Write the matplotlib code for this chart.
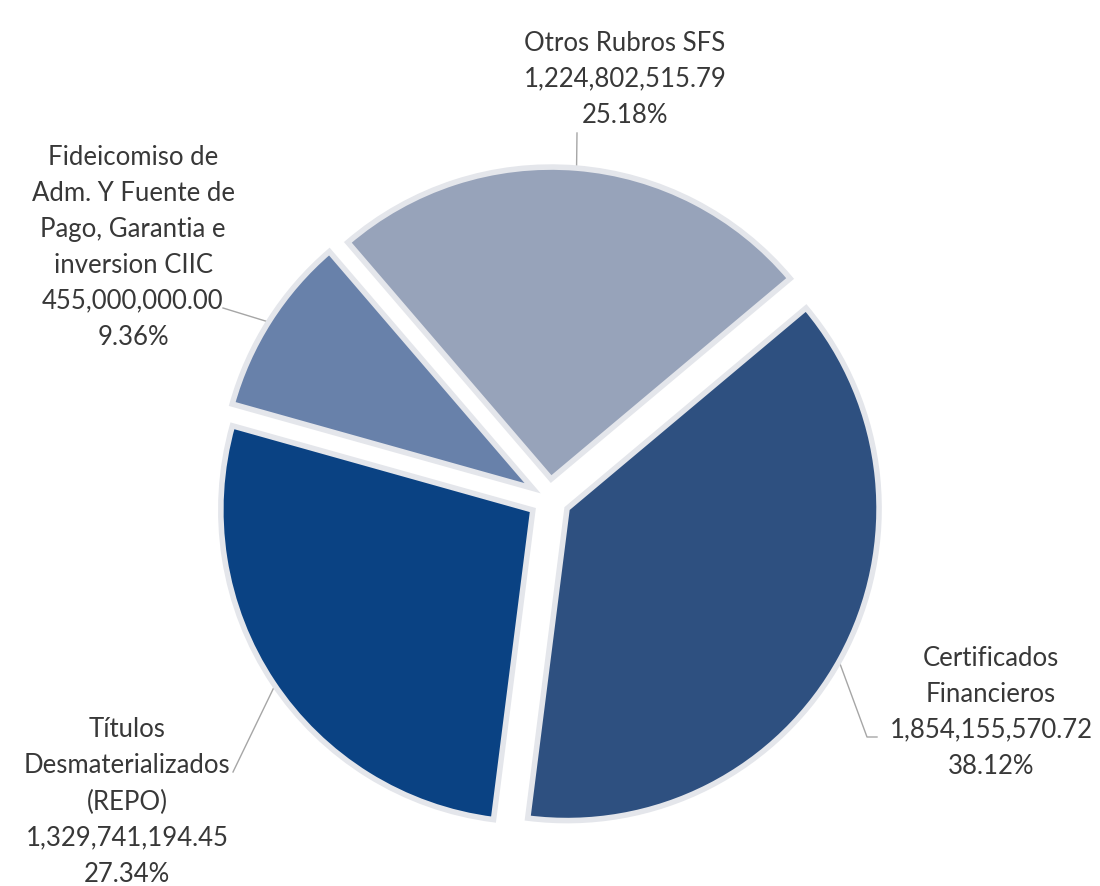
import numpy as np
import matplotlib
matplotlib.use("Agg")
import matplotlib.pyplot as plt

# Datos
nombres = ["Certificados\nFinancieros",
           "Títulos\nDesmaterializados\n(REPO)",
           "Fideicomiso de\nAdm. Y Fuente de\nPago, Garantia e\ninversion CIIC",
           "Otros Rubros SFS"]
montos = [1854155570.72, 1329741194.45, 455000000.00, 1224802515.79]
colores = ["#2E5080", "#0A4283", "#6881AA", "#97A3BA"]

porcentajes = np.array(montos) / sum(montos) * 100

W, H = 1100, 886
cx, cy, radio = 549.5, 499, 312


def py(y):
    # coordenadas de pixel (y hacia abajo) -> datos
    return H - y


fig = plt.figure(figsize=(W / 100, H / 100), dpi=100)
ax = fig.add_axes([0, 0, 1, 1])

# explode de matplotlib va en unidades de datos (pixeles aqui)
wedges, _ = ax.pie(montos, explode=[20] * 4, startangle=40, counterclock=False,
                   colors=colores, center=(cx, py(cy)), radius=radio,
                   wedgeprops=dict(edgecolor="#E4E6EB", linewidth=4))

ax.set_xlim(0, W)
ax.set_ylim(0, H)
ax.set_aspect("equal")
ax.axis("off")

# Etiquetas (posicion del texto, angulo de la linea guia, punto de la linea en el texto)
pos_texto = [(991, 712), (127, 802), (133, 247), (625, 79)]
ang_guia = [-29, 214, 147.7, 85.3]
pts_guia = [[(877, 737), (867, 737)], [(233, 772)], [(223, 308)], [(577, 133)]]

for w, nombre, monto, pct, (tx, ty), ang, pts in zip(
        wedges, nombres, montos, porcentajes, pos_texto, ang_guia, pts_guia):
    texto = f"{nombre}\n{monto:,.2f}\n{pct:.2f}%"
    ax.text(tx, py(ty), texto, ha="center", va="center", fontsize=18.5,
            family=["Lato", "DejaVu Sans"], color="#383838", linespacing=1.55)
    # punta de la linea sobre el borde de la porcion
    wx, wy = w.center
    a = np.deg2rad(ang)
    ex, ey = wx + (w.r - 2) * np.cos(a), wy + (w.r - 2) * np.sin(a)
    xs = [p[0] for p in pts] + [ex]
    ys = [py(p[1]) for p in pts] + [ey]
    ax.plot(xs, ys, color="#A6A6A6", lw=1, zorder=0.5)

fig.savefig("out.png", dpi=100, facecolor="white")
